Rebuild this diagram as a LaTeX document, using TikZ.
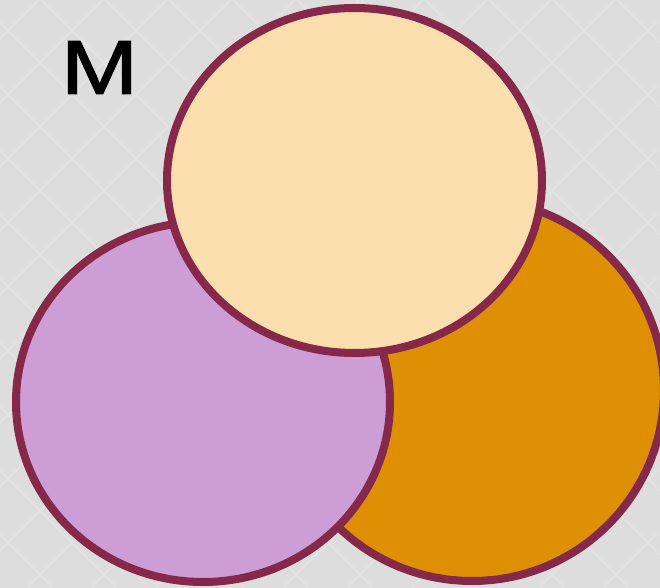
\documentclass[tikz,border=0pt]{standalone}
\usepackage{fontspec}
\setmainfont{Liberation Sans}
\newfontfamily\labelfont[FakeBold=1.6]{Liberation Sans}
\usepackage{xcolor}

\definecolor{bggray}{HTML}{DDDDDD}
\definecolor{bgline}{HTML}{E2E2E2}
\definecolor{rim}{HTML}{86284A}
\definecolor{lilac}{HTML}{CC9ED5}
\definecolor{amber}{HTML}{DE9005}
\definecolor{cream}{HTML}{FBDEAD}

\begin{document}
\begin{tikzpicture}[x=0.01cm,y=-0.01cm,
  blob/.style={draw=rim,line width=0.08cm},
  tile/.style={bgline,line width=0.6pt}]

% background with faint diamonds
\useasboundingbox (0,0) rectangle (660,588);
\fill[bggray] (0,0) rectangle (660,588);
\begin{scope}
\clip (0,0) rectangle (660,588);
\foreach \k in {-11,...,22} {
  \draw[tile] (\k*64+39,0) -- ++(-700,700);
  \draw[tile] (\k*64+41-640,0) -- ++(700,700);
}
\end{scope}

% the three sets
\coordinate (right) at (472,390);
\coordinate (left) at (203,402);
\coordinate (top) at (354.5,180.5);

\filldraw[blob,fill=amber] (right) ellipse [x radius=192,y radius=191];
\filldraw[blob,fill=lilac] (left) ellipse [x radius=187,y radius=180];
\filldraw[blob,fill=cream] (top) ellipse [x radius=187.5,y radius=172.5];

\node[inner sep=0pt,font=\labelfont\fontsize{21.8}{24}\selectfont] (label) at (99.5,67.5) {\scalebox{1.2}[1]{M}};

\end{tikzpicture}
\end{document}
